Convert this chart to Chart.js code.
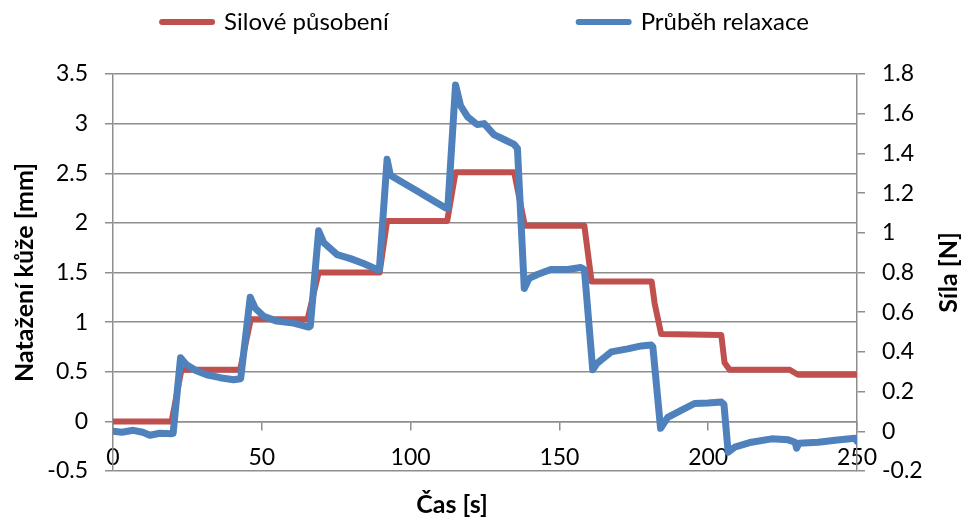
<!DOCTYPE html>
<html>
<head>
<meta charset="utf-8">
<title>Relaxace kůže</title>
<script src="https://cdn.jsdelivr.net/npm/chart.js@4.4.0/dist/chart.umd.min.js"></script>
<style>
  html, body { margin: 0; padding: 0; background: #fff; }
  #wrap { width: 961px; height: 520px; position: relative; }
</style>
</head>
<body>
<div id="wrap"><canvas id="chart"></canvas></div>
<script>
// Silové působení - natažení kůže [mm], levá osa (rohy schodů)
const forceTime = [0, 19.7, 23, 42.7, 46.3, 65.4, 69.1, 89.6, 92.1, 112.3, 115.1, 134.8,
    138.4, 158.4, 160.8, 181, 182, 184.2, 204.4, 205.5, 207.2, 227.4, 228.5, 230.2, 250];
const forceValue = [0, 0, 0.52, 0.52, 1.03, 1.03, 1.50, 1.50, 2.02, 2.02, 2.51, 2.51,
    1.97, 1.97, 1.41, 1.41, 1.19, 0.88, 0.87, 0.59, 0.52, 0.52, 0.50, 0.47, 0.47];

// Průběh relaxace - síla [N], pravá osa
const relaxTime = [0, 3, 6.8, 10, 12.4, 15.7, 19.7, 20.2, 22.7, 24.7, 28, 31.5, 36, 40.5, 42.9,
    46.1, 47.8, 50.6, 55, 60.7, 65.7, 66.3, 69.1, 70.8, 75.3, 79.8, 84.2, 88.7, 89.5,
    92.1, 93.2, 96.6, 102.2, 107.8, 111.8, 112.5, 115.1, 116.8, 119.1, 122.4, 124.7, 128, 131.4, 134.8, 135.9,
    138.2, 139.8, 142.6, 147.1, 152.8, 157.2, 158.4, 161.2, 162.5, 164.5, 167.4, 172.9, 177.5, 180.8, 181.4,
    184, 186.4, 190.9, 195.4, 199.9, 204.4, 205.3, 206.7, 208.9, 214.5, 221.3, 226.9, 229.2, 229.7, 230.5,
    237, 242.6, 249.3, 250];
const relaxValue = [0, -0.005, 0.005, -0.005, -0.02, -0.01, -0.012, -0.01, 0.37, 0.335, 0.305, 0.285, 0.27, 0.26, 0.265,
    0.675, 0.62, 0.58, 0.555, 0.545, 0.525, 0.53, 1.01, 0.95, 0.89, 0.87, 0.845, 0.815, 0.815,
    1.37, 1.29, 1.26, 1.21, 1.16, 1.125, 1.125, 1.745, 1.64, 1.585, 1.545, 1.55, 1.495, 1.47, 1.445, 1.425,
    0.72, 0.77, 0.79, 0.815, 0.815, 0.825, 0.815, 0.31, 0.34, 0.365, 0.40, 0.415, 0.43, 0.435, 0.425,
    0.015, 0.07, 0.105, 0.14, 0.143, 0.148, 0.135, -0.105, -0.08, -0.055, -0.038, -0.043, -0.055, -0.085, -0.06,
    -0.055, -0.045, -0.035, -0.05];

// popisky os
const xTickValues = [0, 50, 100, 150, 200, 250];
const leftTickValues = [-0.5, 0, 0.5, 1, 1.5, 2, 2.5, 3, 3.5];
const rightTickValues = [-0.2, 0, 0.2, 0.4, 0.6, 0.8, 1, 1.2, 1.4, 1.6, 1.8];

const FONT = 'Lato';
const GRID = '#8e8e8e';
const RED = '#C0504D';
const BLUE = '#4F81BD';

// mezera pod legendou
const legendGap = {
    id: 'legendGap',
    beforeInit(chart) {
        const fit = chart.legend.fit;
        chart.legend.fit = function () {
            fit.call(this);
            this.height += 30;
        };
    }
};

// titulky osy x a pravé osy (pravý otočený zdola nahoru jako v Excelu)
const axisTitles = {
    id: 'axisTitles',
    afterDraw(chart) {
        const { ctx, chartArea } = chart;
        ctx.save();
        ctx.font = 'bold 25px ' + FONT;
        ctx.fillStyle = '#000';
        ctx.textAlign = 'center';
        ctx.textBaseline = 'middle';
        ctx.fillText('Čas [s]', 452, 505);
        ctx.translate(949, (chartArea.top + chartArea.bottom) / 2);
        ctx.rotate(-Math.PI / 2);
        ctx.fillText('Síla [N]', 0, 0);
        ctx.restore();
    }
};

const ctx = document.getElementById('chart').getContext('2d');

const chart = new Chart(ctx, {
    type: 'line',
    data: {
        datasets: [{
            label: 'Silové působení',
            data: forceTime.map((t, i) => ({ x: t, y: forceValue[i] })),
            yAxisID: 'y',
            borderColor: RED,
            backgroundColor: RED,
            borderWidth: 6,
            pointRadius: 0,
            borderJoinStyle: 'round',
            borderCapStyle: 'round',
            order: 2
        }, {
            label: 'Průběh relaxace',
            data: relaxTime.map((t, i) => ({ x: t, y: relaxValue[i] })),
            yAxisID: 'y1',
            borderColor: BLUE,
            backgroundColor: BLUE,
            borderWidth: 7,
            pointRadius: 0,
            borderJoinStyle: 'round',
            borderCapStyle: 'round',
            order: 1
        }]
    },
    options: {
        responsive: true,
        maintainAspectRatio: false,
        animation: false,
        layout: { padding: { left: 10, bottom: 49 } },
        scales: {
            x: {
                type: 'linear',
                position: { y: 0 },
                min: 0,
                max: 250,
                afterBuildTicks: s => { s.ticks = xTickValues.map(v => ({ value: v })); },
                grid: { drawOnChartArea: false, color: GRID, lineWidth: 1.5, tickLength: 8 },
                border: { color: GRID, width: 1.5 },
                ticks: { padding: 14, maxRotation: 0, color: '#000', font: { family: FONT, size: 23 } }
            },
            y: {
                position: 'left',
                min: -0.5,
                max: 3.5,
                afterBuildTicks: s => { s.ticks = leftTickValues.map(v => ({ value: v })); },
                afterFit: s => { s.width = 103; },
                grid: { color: GRID, lineWidth: 1.5, tickLength: 8 },
                border: { color: GRID, width: 1.5 },
                ticks: { padding: 17, color: '#000', font: { family: FONT, size: 23 }, callback: v => String(v) },
                title: {
                    display: true,
                    text: 'Natažení kůže [mm]',
                    color: '#000',
                    font: { family: FONT, size: 25, weight: 'bold' },
                    padding: { top: 0, bottom: 0 }
                }
            },
            y1: {
                position: 'right',
                min: -0.2,
                max: 1.8,
                afterBuildTicks: s => { s.ticks = rightTickValues.map(v => ({ value: v })); },
                afterFit: s => { s.width = 104; },
                grid: { drawOnChartArea: false, color: GRID, lineWidth: 1.5, tickLength: 8 },
                border: { color: GRID, width: 1.5 },
                ticks: { padding: 17, color: '#000', font: { family: FONT, size: 23 }, callback: v => String(v) }
            }
        },
        plugins: {
            tooltip: { enabled: false },
            legend: {
                position: 'top',
                labels: {
                    usePointStyle: true,
                    pointStyle: 'line',
                    pointStyleWidth: 50,
                    padding: 10,
                    color: '#000',
                    font: { family: FONT, size: 24 },
                    generateLabels(chart) {
                        const ds = chart.data.datasets;
                        const item = i => ({
                            text: ds[i].label,
                            fillStyle: ds[i].borderColor,
                            strokeStyle: ds[i].borderColor,
                            lineWidth: 6,
                            lineCap: 'round',
                            pointStyle: 'line',
                            fontColor: '#000',
                            hidden: false,
                            datasetIndex: i
                        });
                        const spacer = text => ({
                            text,
                            fillStyle: 'rgba(0,0,0,0)',
                            strokeStyle: 'rgba(0,0,0,0)',
                            lineWidth: 0,
                            pointStyle: 'line',
                            fontColor: '#000',
                            hidden: false
                        });
                        return [item(0), spacer('\u2003'), spacer('\u2003'), item(1)];
                    }
                }
            }
        }
    },
    plugins: [legendGap, axisTitles]
});
</script>
</body>
</html>
